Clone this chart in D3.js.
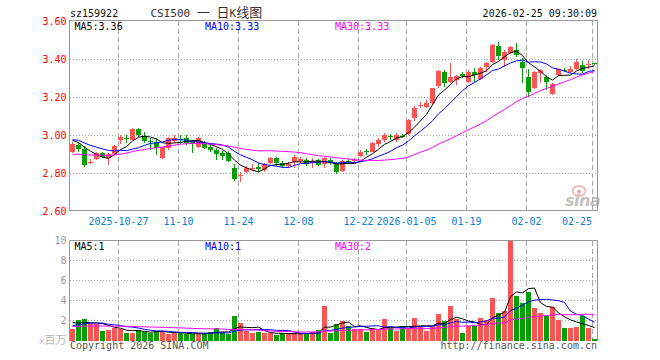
<!DOCTYPE html>
<html><head><meta charset="utf-8">
<script src="https://cdn.jsdelivr.net/npm/d3@7"></script>
<style>body{margin:0;background:#fff}svg{display:block}</style>
</head><body><svg id="c" width="660" height="360"></svg>
<script>
// ---------- DATA ----------
const dates = ("2025-10-15,2025-10-16,2025-10-17,2025-10-20,2025-10-21,2025-10-22,2025-10-23,2025-10-24,2025-10-27,2025-10-28," +
"2025-10-29,2025-10-30,2025-10-31,2025-11-03,2025-11-04,2025-11-05,2025-11-06,2025-11-07,2025-11-10,2025-11-11," +
"2025-11-12,2025-11-13,2025-11-14,2025-11-17,2025-11-18,2025-11-19,2025-11-20,2025-11-21,2025-11-24,2025-11-25," +
"2025-11-26,2025-11-27,2025-11-28,2025-12-01,2025-12-02,2025-12-03,2025-12-04,2025-12-05,2025-12-08,2025-12-09," +
"2025-12-10,2025-12-11,2025-12-12,2025-12-15,2025-12-16,2025-12-17,2025-12-18,2025-12-19,2025-12-22,2025-12-23," +
"2025-12-24,2025-12-25,2025-12-26,2025-12-29,2025-12-30,2025-12-31,2026-01-05,2026-01-06,2026-01-07,2026-01-08," +
"2026-01-09,2026-01-12,2026-01-13,2026-01-14,2026-01-15,2026-01-16,2026-01-19,2026-01-20,2026-01-21,2026-01-22," +
"2026-01-23,2026-01-26,2026-01-27,2026-01-28,2026-01-29,2026-01-30,2026-02-02,2026-02-03,2026-02-04,2026-02-05," +
"2026-02-06,2026-02-09,2026-02-10,2026-02-11,2026-02-12,2026-02-13,2026-02-24,2026-02-25").split(",");

const opens = [2.908,2.950,2.926,2.856,2.872,2.903,2.881,2.898,2.972,2.983,
2.976,3.034,2.996,2.971,2.965,2.881,2.930,2.968,2.981,2.983,
2.966,2.937,2.951,2.938,2.921,2.904,2.904,2.825,2.782,2.804,
2.821,2.832,2.816,2.851,2.877,2.851,2.839,2.856,2.863,2.868,
2.855,2.868,2.847,2.868,2.851,2.811,2.862,2.866,2.891,2.914,
2.912,2.951,2.974,2.993,2.976,2.996,3.005,3.088,3.152,3.149,
3.167,3.259,3.333,3.281,3.287,3.321,3.281,3.333,3.293,3.359,
3.384,3.466,3.397,3.434,3.447,3.386,3.307,3.246,3.325,3.307,
3.214,3.316,3.344,3.330,3.346,3.371,3.368,3.381];

const highs = [2.963,2.961,2.942,2.874,2.908,2.908,2.907,2.947,2.998,3.002,
3.036,3.036,3.016,2.983,2.983,2.937,2.987,3.000,3.000,3.000,
2.974,2.989,2.968,2.951,2.933,2.916,2.916,2.846,2.804,2.838,
2.846,2.853,2.851,2.884,2.886,2.863,2.858,2.895,2.884,2.879,
2.877,2.874,2.886,2.881,2.858,2.868,2.874,2.881,2.921,2.926,
2.962,2.983,3.009,3.004,3.010,3.004,3.084,3.153,3.175,3.184,
3.250,3.342,3.342,3.377,3.316,3.330,3.342,3.351,3.359,3.386,
3.479,3.492,3.447,3.468,3.486,3.405,3.347,3.337,3.345,3.316,
3.274,3.347,3.354,3.363,3.400,3.387,3.397,3.381];

const lows = [2.903,2.911,2.834,2.845,2.868,2.879,2.841,2.895,2.954,2.959,
2.975,2.989,2.958,2.921,2.895,2.876,2.921,2.959,2.953,2.947,
2.907,2.932,2.926,2.912,2.868,2.868,2.859,2.758,2.751,2.798,
2.811,2.804,2.807,2.847,2.837,2.825,2.825,2.825,2.853,2.837,
2.825,2.837,2.825,2.842,2.793,2.804,2.847,2.851,2.886,2.895,
2.909,2.938,2.962,2.974,2.965,2.983,3.000,3.074,3.141,3.141,
3.158,3.247,3.254,3.272,3.263,3.302,3.276,3.281,3.289,3.333,
3.379,3.395,3.359,3.426,3.412,3.272,3.202,3.242,3.272,3.237,
3.211,3.311,3.333,3.326,3.342,3.324,3.345,3.368];

const closes = [2.955,2.928,2.842,2.859,2.903,2.884,2.898,2.942,2.989,2.979,
3.034,2.998,2.971,2.962,2.930,2.935,2.983,2.982,2.974,2.956,
2.958,2.984,2.930,2.921,2.898,2.889,2.863,2.768,2.787,2.828,
2.826,2.821,2.846,2.877,2.851,2.837,2.845,2.886,2.874,2.846,
2.861,2.842,2.877,2.851,2.807,2.863,2.858,2.870,2.912,2.911,
2.956,2.974,3.000,2.989,3.002,2.992,3.079,3.144,3.156,3.170,
3.246,3.337,3.272,3.307,3.312,3.311,3.333,3.316,3.354,3.377,
3.474,3.416,3.438,3.461,3.421,3.353,3.226,3.333,3.341,3.279,
3.267,3.345,3.339,3.346,3.386,3.339,3.372,3.377];

// volume, millions of shares
const volumes = [1.2,2.07,2.2,1.73,1.73,1.0,1.1,1.33,1.2,0.77,
0.77,1.1,0.93,0.85,1.03,0.93,0.7,0.77,0.77,0.7,
0.7,0.67,0.77,0.93,1.27,0.87,0.67,2.47,1.77,1.0,
0.77,0.93,0.77,0.77,0.6,0.77,0.77,0.77,0.67,0.67,
0.93,1.1,3.5,0.77,1.67,2.0,1.53,1.2,1.2,0.87,
1.27,1.2,2.17,1.27,1.0,1.53,1.27,2.27,1.53,1.0,
1.53,2.67,2.0,3.47,2.2,0.77,1.53,1.53,2.27,2.1,
4.27,2.77,3.0,10.0,4.5,3.77,4.93,3.27,2.77,2.53,
3.43,2.1,1.27,1.27,1.43,2.53,1.27,0.2];

// sessions before the visible window (only feed the moving averages)
const priorCloses = [2.90,2.92,2.91,2.89,2.93,2.92,2.90,
2.84,2.81,2.80,2.82,2.83,2.81,2.80,2.82,2.84,2.83,2.82,
2.88,2.92,2.96,2.99,2.98,3.00,2.97,2.98,2.97,2.96,2.99];
const priorVolumes = [1.5,1.2,1.3,1.6,1.4,1.1,1.3,1.5,1.4,1.2,1.6,1.3,1.5,1.4,1.2,1.4,1.5,1.3,1.4,1.6,
1.1,1.3,1.2,1.4,1.15,2.3,1.9,1.8,1.96];

const priceTicks = [2.6, 2.8, 3.0, 3.2, 3.4, 3.6];
const volTicks = [2, 4, 6, 8, 10];
const tickDates = ["2025-10-27","2025-11-10","2025-11-24","2025-12-08","2025-12-22","2026-01-05","2026-01-19","2026-02-02","2026-02-25"];
const tickLabels = ["2025-10-27","11-10","11-24","12-08","12-22","2026-01-05","01-19","02-02","02-25"];
const maPeriods = [5, 10, 30];
const priceMaLabels = ["MA5:3.36", "MA10:3.33", "MA30:3.33"];
const volMaLabels = ["MA5:1", "MA10:1", "MA30:2"];

// ---------- STYLE ----------
const UP = "#fa5555", DOWN = "#06a006";
const MA_COL = ["#000000", "#0000ff", "#ff00ff"];
const MONO = "'DejaVu Sans Mono', 'Liberation Mono', monospace";

const svg = d3.select("#c");
const L = 70, R = 598;
const x = d3.scaleBand().domain(dates).range([L, R]).padding(0);
const yP = d3.scaleLinear().domain([2.6, 3.6]).range([211, 21]);
const yV = d3.scaleLinear().domain([0, 10]).range([341, 241]);

function movAvg(series, prior, n) {
  const full = prior.concat(series), off = prior.length;
  return series.map((_, i) => d3.mean(full.slice(off + i - n + 1, off + i + 1)));
}
const isUp = i => closes[i] > opens[i] || (closes[i] === opens[i] && (i === 0 || closes[i] >= closes[i - 1]));
const cx = d => x(d) + 2.5;

// ---------- GRID ----------
const g = svg.append("g");
g.selectAll(".hp").data(priceTicks.slice(1, -1)).join("line")
  .attr("x1", L).attr("x2", 597).attr("y1", d => Math.round(yP(d)) + 0.5).attr("y2", d => Math.round(yP(d)) + 0.5)
  .attr("stroke", "#a8a8a8").attr("stroke-dasharray", "1,2");
g.selectAll(".hv").data(volTicks.slice(0, -1)).join("line")
  .attr("x1", L).attr("x2", 597).attr("y1", d => yV(d) - 0.5).attr("y2", d => yV(d) - 0.5)
  .attr("stroke", "#a8a8a8").attr("stroke-dasharray", "1,2");
tickDates.forEach(d => {
  const xx = x(d) + 0.5;
  g.append("line").attr("x1", xx).attr("x2", xx).attr("y1", 21).attr("y2", 210)
    .attr("stroke", "#a8a8a8").attr("stroke-dasharray", "5,3");
  g.append("line").attr("x1", xx).attr("x2", xx).attr("y1", 241).attr("y2", 341)
    .attr("stroke", "#a8a8a8").attr("stroke-dasharray", "5,3");
});
g.append("rect").attr("x", 69.5).attr("y", 20.5).attr("width", 528).attr("height", 190)
  .attr("fill", "none").attr("stroke", "#999");
g.append("path").attr("d", "M69.5,341V240.5H597.5V341").attr("fill", "none").attr("stroke", "#999");

// ---------- SINA LOGO (watermark) ----------
const logo = svg.append("g").attr("opacity", 0.6);
logo.append("ellipse").attr("cx", 579).attr("cy", 191).attr("rx", 6.5).attr("ry", 5)
  .attr("fill", "none").attr("stroke", "#ee8c8c").attr("stroke-width", 2);
logo.append("circle").attr("cx", 579).attr("cy", 191.5).attr("r", 2).attr("fill", "#e87070");
logo.append("text").attr("x", 565).attr("y", 206).text("sina")
  .attr("font-family", "'DejaVu Sans', sans-serif").attr("font-style", "italic").attr("font-weight", "bold")
  .attr("font-size", 16).attr("fill", "#9a9a9a").attr("letter-spacing", "-0.5");

// ---------- CANDLES ----------
const idx = d3.range(dates.length);
const cg = svg.append("g").attr("shape-rendering", "crispEdges");
cg.selectAll(".wick").data(idx).join("rect")
  .attr("x", i => x(dates[i]) + 2).attr("width", 1)
  .attr("y", i => yP(highs[i])).attr("height", i => Math.max(1, yP(lows[i]) - yP(highs[i])))
  .attr("fill", i => isUp(i) ? UP : DOWN);
cg.selectAll(".body").data(idx).join("rect")
  .attr("x", i => x(dates[i])).attr("width", 5)
  .attr("y", i => yP(Math.max(opens[i], closes[i])))
  .attr("height", i => Math.max(1, Math.abs(yP(opens[i]) - yP(closes[i]))))
  .attr("fill", i => isUp(i) ? UP : DOWN);

// ---------- VOLUME BARS ----------
cg.selectAll(".vol").data(idx).join("rect")
  .attr("x", i => x(dates[i])).attr("width", 5)
  .attr("y", i => yV(Math.min(volumes[i], 10))).attr("height", i => yV(0) - yV(Math.min(volumes[i], 10)))
  .attr("fill", i => isUp(i) ? UP : DOWN);

// ---------- MOVING AVERAGES ----------
maPeriods.forEach((n, k) => {
  const m = movAvg(closes, priorCloses, n);
  svg.append("path").datum(idx)
    .attr("d", d3.line().x(i => cx(dates[i])).y(i => yP(m[i])))
    .attr("fill", "none").attr("stroke", MA_COL[k]).attr("stroke-width", 1);
  const mv = movAvg(volumes, priorVolumes, n);
  svg.append("path").datum(idx)
    .attr("d", d3.line().x(i => cx(dates[i])).y(i => yV(mv[i])))
    .attr("fill", "none").attr("stroke", MA_COL[k]).attr("stroke-width", 1);
});

// ---------- TEXT ----------
const T = (xx, yy, s, col, anchor, size) => svg.append("text").attr("x", xx).attr("y", yy).text(s)
  .attr("fill", col).attr("font-family", MONO).attr("font-size", size || 10).attr("text-anchor", anchor || "start");

T(70, 16.5, "sz159922", "#111");
const title = svg.append("text").attr("x", 150.5).attr("y", 16.5).attr("fill", "#333");
title.append("tspan").attr("font-family", MONO).attr("font-size", 11).text("CSI500 ");
title.append("tspan").attr("font-family", "'Noto Sans CJK SC', sans-serif").attr("font-size", 13).text("一");
title.append("tspan").attr("font-family", MONO).attr("font-size", 11).text(" ");
title.append("tspan").attr("font-family", "'Noto Sans CJK SC', sans-serif").attr("font-size", 13).text("日");
title.append("tspan").attr("font-family", MONO).attr("font-size", 11).text("K");
title.append("tspan").attr("font-family", "'Noto Sans CJK SC', sans-serif").attr("font-size", 13).text("线图");
T(597, 16.5, "2026-02-25 09:30:09", "#111", "end");

const maX = [74.5, 205, 335];
priceMaLabels.forEach((s, k) => T(maX[k], 29.5, s, MA_COL[k]));
volMaLabels.forEach((s, k) => T(maX[k], 249.5, s, MA_COL[k]));

priceTicks.forEach(t => T(66.5, yP(t) + 3.7, t.toFixed(2), "#ff0000", "end"));
volTicks.forEach(t => T(66.5, yV(t) + 3.2, String(t), "#9a9a9a", "end"));

tickDates.forEach((d, k) => {
  const last = k === tickDates.length - 1;
  T(last ? x(d) : x(d) + 0.5, 225, tickLabels[k], "#0a80d8", last ? "end" : "middle");
});

const unit = svg.append("text").attr("x", 66.5).attr("y", 344).attr("text-anchor", "end").attr("fill", "#b8b8b8");
unit.append("tspan").attr("font-family", MONO).attr("font-size", 9).text("x");
unit.append("tspan").attr("font-family", "'Noto Sans CJK SC', sans-serif").attr("font-size", 11).text("百万");

T(70, 349, "Copyright 2026 SINA.COM", "#555");
T(597, 349, "http://finance.sina.com.cn", "#555", "end");
</script></body></html>
